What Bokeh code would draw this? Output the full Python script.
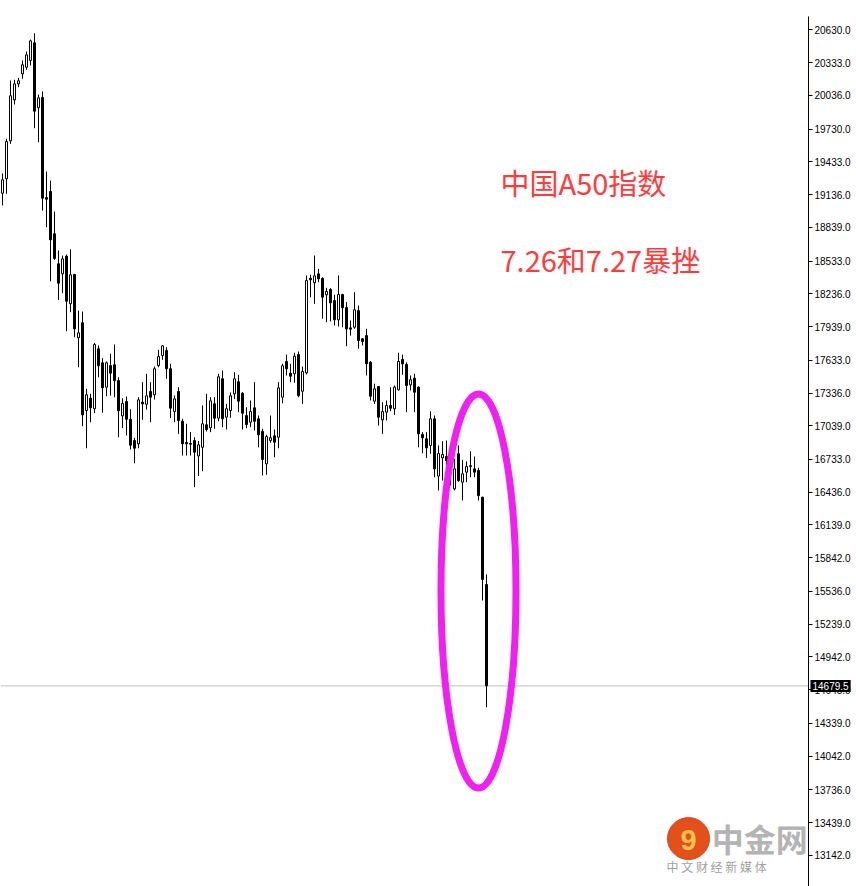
from bokeh.plotting import figure
from bokeh.models import Range1d, FixedTicker, NumeralTickFormatter, Span, Label
from bokeh.embed import file_html
from bokeh.resources import INLINE

# ---- data ----
open_ = [19148, 19279, 19623, 19995, 20140, 20231, 20291, 20352, 20512, 19923,
         20016, 19109, 19164, 18780, 18508, 18417, 18577, 18145, 18411, 17837,
         17973, 17177, 17289, 17193, 17737, 17610, 17389, 17585, 17592, 17449,
         17129, 17259, 17098, 16905, 16875, 17253, 17234, 17350, 17320, 17585,
         17676, 17722, 17556, 17168, 17350, 17080, 16887, 16878, 16905, 16765,
         16844, 17048, 17020, 17238, 17108, 17465, 17117, 17177, 17329, 17438,
         17334, 17132, 17071, 17202, 17102, 16987, 16694, 16905, 16948, 16935,
         17298, 17622, 17516, 17510, 17685, 17352, 17519, 18377, 18336, 18417,
         18375, 18227, 18275, 18175, 18000, 18229, 18111, 17927, 17933, 18084,
         17828, 17857, 17615, 17262, 17395, 17093, 17162, 17223, 17193, 17365,
         17640, 17595, 17410, 17470, 17389, 16960, 16921, 16860, 17102, 16583,
         16748, 16760, 16751, 16467, 16785, 16527, 16618, 16669, 16648, 16633,
         16391, 15599]
high = [19327, 19642, 20170, 20177, 20195, 20352, 20433, 20542, 20599, 20043,
        20071, 19345, 19263, 18982, 18629, 18583, 18592, 18640, 18417, 18084,
        18075, 17374, 17329, 17791, 17767, 17652, 17622, 17692, 17776, 17479,
        17289, 17304, 17189, 16930, 17298, 17434, 17510, 17434, 17576, 17728,
        17770, 17751, 17601, 17313, 17389, 17102, 17057, 16981, 16935, 16901,
        17223, 17329, 17298, 17298, 17510, 17540, 17238, 17341, 17525, 17501,
        17343, 17207, 17268, 17434, 17132, 17011, 16957, 17132, 17005, 17434,
        17601, 17685, 17601, 17701, 17712, 17576, 18402, 18408, 18583, 18462,
        18386, 18290, 18287, 18227, 18402, 18236, 18160, 17994, 18250, 18130,
        17833, 17918, 17625, 17420, 17398, 17253, 17268, 17389, 17404, 17701,
        17685, 17615, 17495, 17510, 17395, 16981, 16981, 17171, 17132, 16860,
        16899, 16905, 16842, 16739, 16860, 16730, 16715, 16808, 16760, 16658,
        16395, 15690]
low = [19037, 19143, 19596, 19953, 20110, 20186, 20267, 20306, 19738, 19611,
       18991, 18840, 18350, 18544, 18181, 18241, 17897, 18069, 17842, 17570,
       17035, 16835, 17071, 17153, 17479, 17156, 17307, 17313, 17298, 16935,
       17017, 16951, 16824, 16699, 16835, 17093, 17186, 17071, 17277, 17570,
       17637, 17465, 17108, 17071, 16966, 16769, 16769, 16769, 16482, 16583,
       16627, 16987, 16981, 17011, 17080, 17026, 17005, 17111, 17283, 17162,
       17005, 17017, 17026, 16996, 16844, 16588, 16594, 16884, 16754, 16835,
       17243, 17495, 17434, 17429, 17298, 17238, 17504, 18205, 18145, 18341,
       18009, 17978, 17985, 17948, 17939, 17933, 17760, 17857, 17918, 17737,
       17767, 17495, 17268, 17238, 17041, 16966, 17087, 17171, 17138, 17359,
       17501, 17162, 17359, 17162, 16844, 16790, 16748, 16785, 16572, 16452,
       16542, 16434, 16497, 16452, 16530, 16361, 16527, 16572, 16572, 16361,
       15454, 14486]
close = [19270, 19617, 20032, 20140, 20168, 20313, 20403, 20530, 19892, 20013,
         19103, 19094, 18726, 18556, 18332, 18553, 18169, 18408, 17918, 17882,
         17138, 17320, 17202, 17776, 17583, 17383, 17610, 17516, 17449, 17175,
         17241, 17098, 16863, 16835, 17274, 17238, 17311, 17298, 17556, 17667,
         17764, 17556, 17198, 17283, 17087, 16875, 16875, 16872, 16799, 16866,
         17057, 17005, 17265, 17108, 17483, 17102, 17193, 17311, 17465, 17262,
         17153, 17050, 17168, 17080, 16957, 16733, 16941, 16930, 16890, 17383,
         17583, 17556, 17488, 17670, 17313, 17531, 18356, 18363, 18399, 18372,
         18205, 18257, 18154, 18000, 18229, 18109, 17918, 17915, 18091, 17812,
         17803, 17601, 17307, 17374, 17117, 17168, 17223, 17198, 17389, 17622,
         17601, 17404, 17456, 17343, 16966, 16930, 16839, 17102, 16648, 16787,
         16778, 16724, 16678, 16648, 16542, 16603, 16669, 16678, 16618, 16406,
         15645, 14679.5]

tick_values = [20630, 20333, 20036, 19730, 19433, 19136, 18839, 18533, 18236,
               17939, 17633, 17336, 17039, 16733, 16436, 16139, 15842, 15536,
               15239, 14942, 14645, 14339, 14042, 13736, 13439, 13142, 12845]
last_price = 14679.5
last_label = "14679.5"
title_text = "中国A50指数"
sub_text = "7.26和7.27暴挫"
brand_text = "中金网"
brand_sub = "中 文 财 经 新 媒 体"

idx = list(range(len(open_)))
body_top = [max(o, c) for o, c in zip(open_, close)]
body_bot = [min(o, c) for o, c in zip(open_, close)]
body_fill = ["white" if c >= o else "black" for o, c in zip(open_, close)]

p = figure(frame_width=808, frame_height=870,
           x_range=Range1d(-0.5, 201.5), y_range=Range1d(12860, 20751),
           x_axis_location=None, y_axis_location="right",
           output_backend="svg", toolbar_location=None,
           min_border_left=0, min_border_top=16, min_border_bottom=0,
           min_border_right=48, background_fill_color="white",
           border_fill_color="white")
p.grid.visible = False
p.outline_line_color = None

ax = p.yaxis[0]
ax.ticker = FixedTicker(ticks=tick_values)
ax.formatter = NumeralTickFormatter(format="0.0")
ax.major_label_text_font = "Liberation Sans"
ax.major_label_text_font_size = "10px"
ax.major_label_text_color = "black"
ax.axis_line_color = "black"
ax.axis_line_width = 1
ax.major_tick_line_color = "black"
ax.major_tick_out = 4
ax.major_tick_in = 0
ax.minor_tick_line_color = None
ax.major_label_standoff = 2

# last price line
p.add_layout(Span(location=last_price, dimension="width",
                  line_color="#c0c0c0", line_width=1, level="underlay"))

# candles
p.segment(x0=idx, y0=low, x1=idx, y1=high, line_color="black", line_width=1)
p.vbar(x=idx, width=0.5, top=body_top, bottom=body_bot,
       fill_color=body_fill, line_color="black", line_width=1)

# highlight ellipse
p.ellipse(x=[119.0], y=[15540], width=18.75, height=3574,
          fill_color=None, line_color="#f020f0", line_width=7)

# annotations
p.add_layout(Label(x=124.5, y=19254, text=title_text, text_color="#ff3b3b",
                   text_font="Noto Sans CJK SC", text_font_size="29px",
                   text_baseline="middle", text_align="left"))
p.add_layout(Label(x=124.5, y=18547, text=sub_text, text_color="#ff3b3b",
                   text_font="Noto Sans CJK SC", text_font_size="29px",
                   text_baseline="middle", text_align="left"))

# watermark (kept inside the plotting area)
p.scatter(x=[171.5], y=[13295], size=42, marker="circle",
          fill_color="#e2501c", line_color="#d8421a")
p.add_layout(Label(x=171.5, y=13285, text="9", text_color="#f6c04a",
                   text_font="Liberation Sans", text_font_style="bold",
                   text_font_size="29px", text_baseline="middle",
                   text_align="center"))
p.add_layout(Label(x=177.3, y=13304, text=brand_text,
                   text_color="#b4b4b4", text_font="Noto Sans CJK SC",
                   text_font_style="bold", text_font_size="32px",
                   text_baseline="middle", text_align="left"))
p.add_layout(Label(x=166.0, y=13041, text=brand_sub,
                   text_color="#a0a0a0", text_font="Noto Sans CJK SC",
                   text_font_size="12px", text_baseline="middle",
                   text_align="left"))

# last price tag over the axis (placed in a side panel so it is not clipped)
p.add_layout(Label(x=202.0, y=last_price, text=last_label,
                   text_color="white", background_fill_color="black",
                   text_font="Liberation Sans", text_font_size="10px",
                   text_baseline="middle", text_align="left", padding=2),
             "above")

open("out.html", "w").write(file_html(p, INLINE))
